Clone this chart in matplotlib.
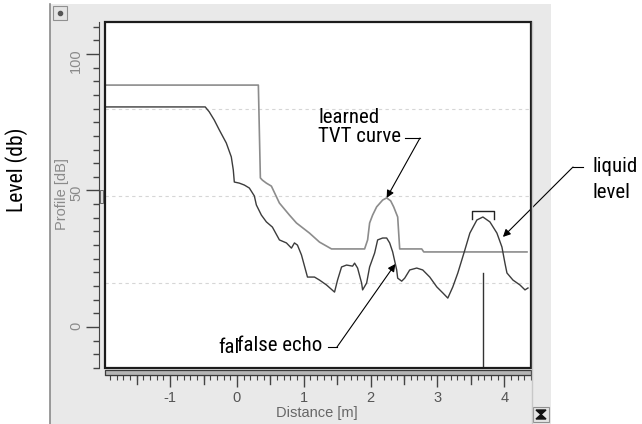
import numpy as np
import matplotlib
matplotlib.use("Agg")
import matplotlib.pyplot as plt
from matplotlib import font_manager as fm
from matplotlib import transforms
from matplotlib.patches import Rectangle, Polygon
from matplotlib.lines import Line2D

# echo profile (dark trace)
echo_x = [-1.975, -0.475, -0.415, -0.34, -0.265, -0.16, -0.085, -0.055, -0.04, 0.035,
          0.11, 0.185, 0.26, 0.29, 0.365, 0.44, 0.53, 0.635, 0.74, 0.815,
          0.86, 0.905, 0.965, 1.055, 1.16, 1.235, 1.34, 1.46, 1.505, 1.565,
          1.64, 1.73, 1.76, 1.805, 1.865, 1.88, 1.94, 1.985, 2.06, 2.105,
          2.18, 2.24, 2.285, 2.33, 2.39, 2.405, 2.465, 2.51, 2.585, 2.69,
          2.78, 2.885, 2.99, 3.08, 3.155, 3.23, 3.305, 3.41, 3.485, 3.59,
          3.68, 3.785, 3.89, 3.965, 4.01, 4.04, 4.13, 4.235, 4.31, 4.355]
echo_db = [80.6, 80.6, 78.8, 75.8, 72.2, 67.4, 62.3, 57.5, 53.1, 52.7,
           52.0, 50.9, 48.0, 44.7, 41.0, 38.5, 36.6, 31.9, 30.8, 28.9,
           30.8, 30.0, 26.4, 18.3, 18.3, 17.2, 15.4, 12.8, 17.2, 22.0,
           22.7, 22.3, 23.4, 21.6, 16.1, 13.6, 16.1, 22.0, 27.1, 31.9,
           32.6, 32.6, 30.8, 27.5, 20.9, 17.9, 16.8, 17.9, 20.9, 21.6,
           20.9, 18.3, 14.7, 12.5, 10.6, 14.7, 19.8, 28.2, 34.4, 39.2,
           40.3, 38.5, 34.4, 29.3, 23.4, 19.8, 17.2, 15.4, 13.6, 14.3]

# learned TVT curve (light trace)
tvt_x = [-1.975, 0.32, 0.35, 0.38, 0.44, 0.515, 0.635, 0.785, 0.89, 1.085,
         1.235, 1.415, 1.91, 1.955, 1.985, 2.03, 2.09, 2.18, 2.24, 2.30,
         2.345, 2.405, 2.435, 2.765, 2.795, 4.34]
tvt_db = [88.6, 88.6, 54.6, 53.8, 52.7, 51.6, 45.4, 41.0, 38.1, 34.4,
          31.1, 28.6, 28.6, 31.9, 38.1, 41.0, 44.0, 46.5, 47.3, 46.2,
          44.0, 40.3, 28.6, 28.6, 27.5, 27.5]

grid_db = [16, 48, 80]
y_major = [0, 50, 100]
x_major = [-1, 0, 1, 2, 3, 4]

W, H = 642, 424


def fx(px):
    return px / W


def fy(py):
    return 1 - py / H


def narrow_font():
    # callout lettering is condensed; use a narrow face when one is installed
    for name in ["Liberation Sans Narrow", "Roboto Condensed", "Open Sans Condensed"]:
        try:
            fm.findfont(fm.FontProperties(family=name), fallback_to_default=False)
            return name, 15
        except ValueError:
            pass
    return "Liberation Sans", 13.5


plt.rcParams["font.family"] = ["Liberation Sans", "DejaVu Sans"]
call_family, call_size = narrow_font()

fig = plt.figure(figsize=(W / 100, H / 100), dpi=100)
fig.patch.set_facecolor("white")

# window panel behind the chart
fig.add_artist(Rectangle((fx(50), 0), fx(551) - fx(50), fy(4), transform=fig.transFigure,
                         facecolor="#e9e9e9", edgecolor="none", zorder=0))
fig.add_artist(Line2D([fx(50), fx(50)], [0, fy(4)], transform=fig.transFigure,
                      color="#8a8a8a", lw=1.2))
fig.add_artist(Line2D([fx(532), fx(532)], [fy(424), fy(22)], transform=fig.transFigure,
                      color="#c8c8c8", lw=1.0))
fig.add_artist(Rectangle((fx(53), fy(20)), fx(14), 14 / H, transform=fig.transFigure,
                         facecolor="#e4e4e4", edgecolor="#909090", lw=0.8))
fig.add_artist(Line2D([fx(60)], [fy(13)], transform=fig.transFigure, marker="o",
                      ms=3, color="#555"))
fig.add_artist(Rectangle((fx(533), fy(422)), fx(16), 15 / H, transform=fig.transFigure,
                         facecolor="#e4e4e4", edgecolor="#909090", lw=0.8))
fig.add_artist(Polygon([(fx(536), fy(410)), (fx(541), fy(414.5)), (fx(536), fy(419)),
                        (fx(546), fy(419)), (fx(541), fy(414.5)), (fx(546), fy(410))],
                       closed=True, transform=fig.transFigure, color="#111"))

ax = fig.add_axes([fx(105), fy(368), fx(531) - fx(105), (368 - 22) / H])
ax.set_facecolor("white")
ax.set_xlim(-1.975, 4.40)
ax.set_ylim(-15.0, 111.7)

for s in ["top", "right"]:
    ax.spines[s].set_visible(False)
ax.spines["left"].set_position(("outward", 6 * 0.72))
ax.spines["bottom"].set_position(("outward", 7 * 0.72))
ax.spines["left"].set_color("#444")
ax.spines["bottom"].set_color("#444")
ax.add_patch(Rectangle((0, 0), 1, 1, transform=ax.transAxes, fill=False,
                       edgecolor="#1c1c1c", lw=1.6, clip_on=False, zorder=5))

# ruler bar under the plot
fig.add_artist(Rectangle((fx(105), fy(375)), fx(531) - fx(105), 5 / H, transform=fig.transFigure,
                         facecolor="#b5b5b5", edgecolor="#3a3a3a", lw=0.9))
fig.add_artist(Rectangle((fx(100), fy(203)), fx(3), 13 / H, transform=fig.transFigure,
                         facecolor="#dddddd", edgecolor="#666", lw=0.7))

ax.set_yticks(y_major)
ax.set_yticks(np.arange(-15, 111, 5), minor=True)
ax.set_xticks(x_major)
ax.set_xticks(np.arange(-1.9, 4.41, 0.1), minor=True)
ax.tick_params(axis="y", which="major", length=13 * 0.72, width=1, color="#444",
               labelsize=10.5, labelcolor="#8a8a8a", labelrotation=90, pad=2)
ax.tick_params(axis="y", which="minor", length=6 * 0.72, width=1, color="#444")
ax.tick_params(axis="x", which="major", length=12 * 0.72, width=1, color="#444",
               labelsize=10.5, labelcolor="#555", pad=3)
ax.tick_params(axis="x", which="minor", length=5 * 0.72, width=0.8, color="#444")
ax.set_xticklabels(["-1", "0", "1", "2", "3", "4"])

# half-metre ticks on the distance ruler
half = transforms.blended_transform_factory(ax.transData, fig.transFigure)
for xm in np.arange(-1.5, 4.4, 1.0):
    ax.plot([xm, xm], [fy(376), fy(384)], color="#444", lw=1, transform=half, clip_on=False)

for g in grid_db:
    ax.axhline(g, color="#d6d6d6", lw=0.8, ls=(0, (3, 3)), zorder=1)

ax.plot(tvt_x, tvt_db, color="#8c8c8c", lw=1.2, zorder=3)
ax.plot(echo_x, echo_db, color="#3c3c3c", lw=1.0, zorder=4)

# liquid level marker: peak of the echo beyond 3 m
ex = np.array(echo_x)
ed = np.array(echo_db)
far = ex > 3
liquid_x = ex[far][np.argmax(ed[far])]
liquid_db = ed[far].max()
ax.plot([liquid_x, liquid_x], [-15, 19.8], color="#333", lw=1.0, zorder=4)
ax.plot([liquid_x - 0.17, liquid_x - 0.17, liquid_x + 0.17, liquid_x + 0.17],
        [liquid_db - 0.8, liquid_db + 2.2, liquid_db + 2.2, liquid_db - 0.8],
        color="#222", lw=1.0, zorder=4)

tx = np.array(tvt_x)
td = np.array(tvt_db)
near = (tx > 1.5) & (tx < 3)
tvt_peak = (tx[near][np.argmax(td[near])], td[near].max())
false_x = 2.37
false_tip = (false_x, np.interp(false_x, echo_x, echo_db))
liquid_tip = (3.98, 33.0)

tkw = dict(fontsize=call_size, family=[call_family, "DejaVu Sans"], color="black", va="baseline")
fig.text(fx(318), fy(123), "learned", **tkw)
fig.text(fx(318), fy(142), "TVT curve", **tkw)
fig.text(fx(593), fy(172), "liquid", **tkw)
fig.text(fx(593), fy(198), "level", **tkw)
fig.text(fx(218), fy(353), "fal", **tkw)
fig.text(fx(237), fy(351), "false echo", **tkw)

arrow = dict(arrowstyle="-|>", color="black", lw=0.8, shrinkA=0, shrinkB=0, mutation_scale=11)
leaders = [((405, 420), 138, tvt_peak),
           ((583, 573), 167, liquid_tip),
           ((328, 337), 347, false_tip)]
for (xa, xb), yl, tip in leaders:
    fig.add_artist(Line2D([fx(xa), fx(xb)], [fy(yl), fy(yl)], transform=fig.transFigure,
                          color="black", lw=0.8))
    ax.annotate("", xy=tip, xycoords="data", xytext=(xb, H - yl), textcoords="figure pixels",
                arrowprops=arrow, annotation_clip=False)

fig.text(fx(62), fy(194), "Profile [dB]", rotation=90, ha="center", va="center",
         fontsize=10.5, color="#8a8a8a")
fig.text(fx(317), fy(413), "Distance [m]", ha="center", va="center",
         fontsize=10.5, color="#666")
fig.text(fx(17), fy(170), "Level (db)", rotation=90, ha="center", va="center",
         fontsize=call_size + 0.5, family=[call_family, "DejaVu Sans"], color="black")

fig.savefig("out.png", dpi=100)
